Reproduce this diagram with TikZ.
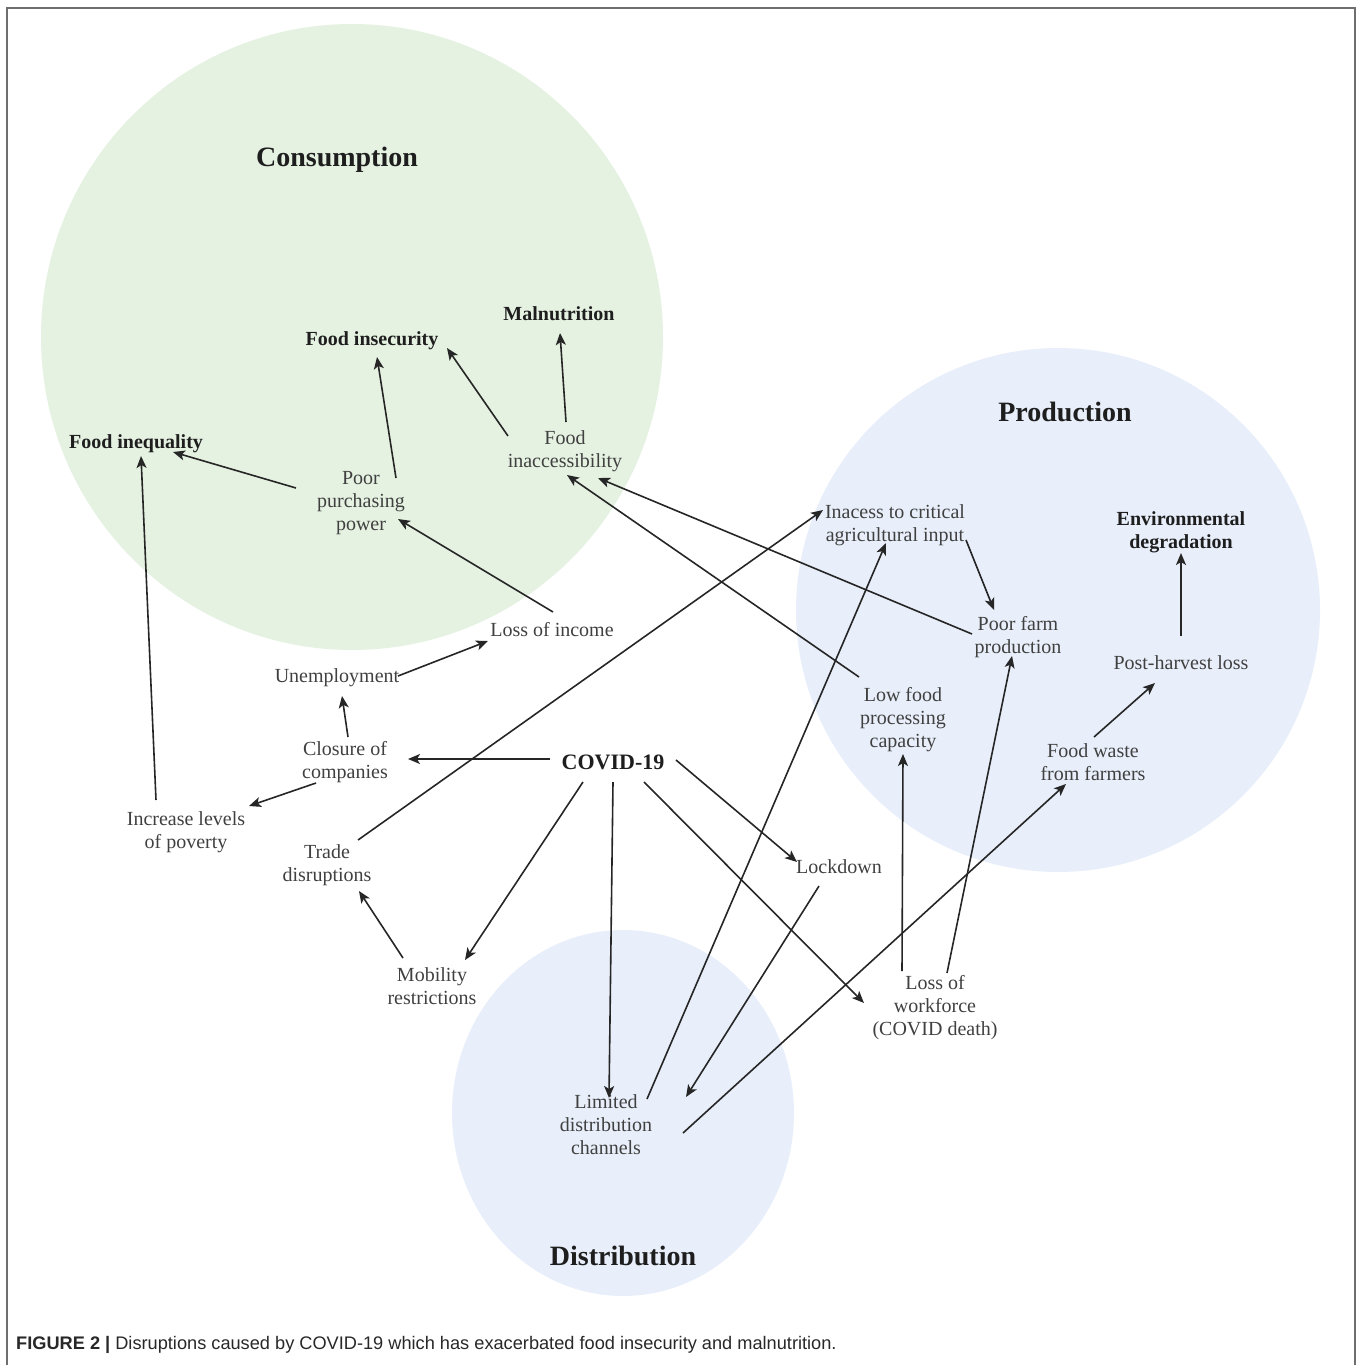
\documentclass[tikz,border=0pt]{standalone}
\usepackage{fontspec}
\setmainfont{Liberation Serif}
\newfontfamily\capfont{Liberation Sans}
\usetikzlibrary{arrows.meta}
\definecolor{consgreen}{RGB}{229,242,225}
\definecolor{bluefill}{RGB}{232,239,250}
\definecolor{txt}{RGB}{64,64,64}
\definecolor{bldtxt}{RGB}{30,30,30}
\definecolor{framegray}{RGB}{110,110,110}
\definecolor{capgray}{RGB}{40,40,40}
\begin{document}
\begin{tikzpicture}[x=1pt,y=-1pt,
  lbl/.style={align=center, font=\fontsize{20}{23}\selectfont, text=txt, inner sep=0pt},
  bld/.style={align=center, font=\fontsize{20}{23}\selectfont\bfseries, text=bldtxt, inner sep=0pt},
  ttl/.style={font=\fontsize{28}{32}\selectfont\bfseries, text=bldtxt, inner sep=0pt},
  arr/.style={-{Stealth[length=12pt,width=10pt,inset=3pt]}, line width=1.6pt, draw=black!85},
  ln/.style={line width=1.6pt, draw=black!85}
]
\useasboundingbox (0,0) rectangle (1358,1365);
% frame
\draw[framegray, line width=2pt] (7,1365) -- (7,8) -- (1355,8) -- (1355,1365);
% circles
\fill[consgreen] (352,337) ellipse [x radius=311, y radius=313];
\fill[bluefill] (1058,610) circle [radius=262];
\fill[bluefill] (623,1113) ellipse [x radius=171, y radius=183];
% titles
\node[ttl] (tcons) at (337,160) {Consumption};
\node[ttl] (tprod) at (1065,412) {Production};
\node[ttl] (tdist) at (623,1256) {Distribution};
% nodes
\node[bld] (maln) at (559,314) {Malnutrition};
\node[bld] (finsec) at (372,341) {Food insecurity};
\node[bld] (fineq) at (136,444) {Food inequality};
\node[lbl] (ppp) at (361,503) {Poor\\purchasing\\power};
\node[lbl] (finacc) at (565,451) {Food\\inaccessibility};
\node[lbl] (loi) at (552,630) {Loss of income};
\node[lbl] (unemp) at (337,678) {Unemployment};
\node[lbl] (closure) at (345,762) {Closure of\\companies};
\node[bld, font=\fontsize{22}{26}\selectfont\bfseries] (covid) at (613,762) {COVID-19};
\node[lbl] (poverty) at (186,832) {Increase levels\\of poverty};
\node[lbl] (trade) at (327,865) {Trade\\disruptions};
\node[lbl] (mobility) at (432,986) {Mobility\\restrictions};
\node[lbl] (lockdown) at (839,867) {Lockdown};
\node[lbl] (workforce) at (935,1008) {Loss of\\workforce\\(COVID death)};
\node[lbl] (ldc) at (606,1125) {Limited\\distribution\\channels};
\node[lbl] (inacess) at (895,525) {Inacess to critical\\agricultural input};
\node[lbl] (pfp) at (1018,637) {Poor farm\\production};
\node[bld] (envdeg) at (1181,532) {Environmental\\degradation};
\node[lbl] (phl) at (1181,663) {Post-harvest loss};
\node[lbl] (lfpc) at (903,720) {Low food\\processing\\capacity};
\node[lbl] (fwaste) at (1093,762) {Food waste\\from farmers};
% connectors
\draw[arr] ([shift={(1,-29)}]finacc.center) -- ([shift={(1,19)}]maln.center);
\draw[arr] ([shift={(-57,-15)}]finacc.center) -- ([shift={(75,7)}]finsec.center);
\draw[arr] ([shift={(35,-25)}]ppp.center) -- ([shift={(5,16)}]finsec.center);
\draw[arr] ([shift={(-65,-15)}]ppp.center) -- ([shift={(37,8)}]fineq.center);
\draw[arr] ([shift={(-30,-32)}]poverty.center) -- ([shift={(5,12)}]fineq.center);
\draw[arr] ([shift={(1,-18)}]loi.center) -- ([shift={(37,16)}]ppp.center);
\draw[arr] ([shift={(61,-2)}]unemp.center) -- ([shift={(-64,11)}]loi.center);
\draw[arr] ([shift={(3,-25)}]closure.center) -- ([shift={(5,18)}]unemp.center);
\draw[arr] ([shift={(-29,21)}]closure.center) -- ([shift={(63,-26)}]poverty.center);
\draw[arr] ([shift={(-63,-3)}]covid.center) -- ([shift={(63,-3)}]closure.center);
\draw[arr] ([shift={(-30,20)}]covid.center) -- ([shift={(33,-26)}]mobility.center);
\draw[arr] ([shift={(0,20)}]covid.center) -- ([shift={(3,-27)}]ldc.center);
\draw[arr] ([shift={(63,-2)}]covid.center) -- ([shift={(-42,-5)}]lockdown.center);
\draw[arr] ([shift={(31,20)}]covid.center) -- ([shift={(-71,-5)}]workforce.center);
\draw[arr] ([shift={(-29,-28)}]mobility.center) -- ([shift={(32,26)}]trade.center);
\draw[arr] ([shift={(31,-25)}]trade.center) -- ([shift={(-72,-15)}]inacess.center);
\draw[arr] ([shift={(-20,19)}]lockdown.center) -- ([shift={(80,-28)}]ldc.center);
\draw[arr] ([shift={(41,-26)}]ldc.center) -- ([shift={(-9,18)}]inacess.center);
\draw[arr] ([shift={(77,8)}]ldc.center) -- ([shift={(-27,22)}]fwaste.center);
\draw[arr] ([shift={(-44,-43)}]lfpc.center) -- ([shift={(2,24)}]finacc.center);
\draw[arr] ([shift={(-46,-3)}]pfp.center) -- ([shift={(33,27)}]finacc.center);
\draw[arr] ([shift={(71,15)}]inacess.center) -- ([shift={(-24,-27)}]pfp.center);
\draw[arr] ([shift={(-33,-37)}]workforce.center) -- ([shift={(0,34)}]lfpc.center);
\draw[arr] ([shift={(12,-35)}]workforce.center) -- ([shift={(-6,19)}]pfp.center);
\draw[arr] ([shift={(1,-25)}]fwaste.center) -- ([shift={(-26,20)}]phl.center);
\draw[arr] ([shift={(0,-27)}]phl.center) -- ([shift={(0,21)}]envdeg.center);
% caption
\node[anchor=west, inner sep=0pt, text=capgray, font=\capfont\fontsize{18.2}{22}\selectfont] (cap) at (16,1345) {\textbf{FIGURE 2} \textbf{|} Disruptions caused by COVID-19 which has exacerbated food insecurity and malnutrition.};
\end{tikzpicture}
\end{document}
